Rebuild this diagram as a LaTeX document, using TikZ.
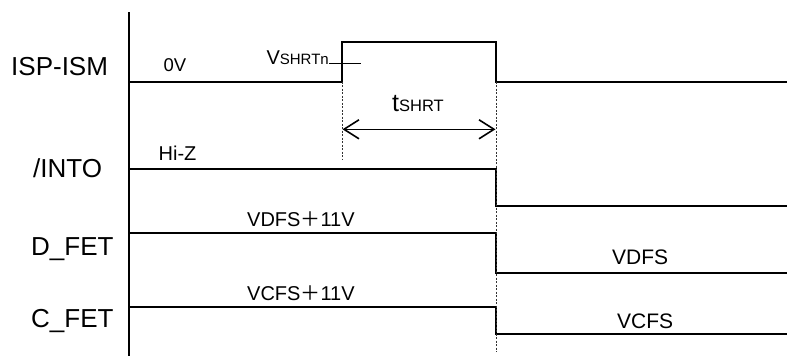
\documentclass[tikz,border=0pt]{standalone}
\usepackage{fontspec}
\setmainfont{Liberation Sans}
\newfontfamily\cjk{Noto Sans CJK SC}
\usetikzlibrary{arrows.meta}
\newcommand{\fs}[1]{\fontsize{#1}{#1}\selectfont}
\begin{document}
\begin{tikzpicture}[x=1pt,y=-1pt,
  sig/.style={line width=1.8pt,line join=miter},
  guide/.style={line width=0.6pt,dash pattern=on 2pt off 1.5pt,black!80},
  sname/.style={inner sep=0pt,anchor=base west,font=\fs{26}},
  lvl/.style={inner sep=0pt,anchor=base west,font=\fs{20}},
  span/.style={line width=1.6pt,{Straight Barb[length=15pt,width=19pt,line width=1.6pt]}-{Straight Barb[length=15pt,width=19pt,line width=1.6pt]}}]
\useasboundingbox (0,0) rectangle (787,356);
% axis
\coordinate (axtop) at (129,12);
\coordinate (axbot) at (129,356);
\draw[line width=1.8pt] (axtop) -- (axbot);
% signal names
\node[sname] (nisp) at (11,75.5) {ISP-ISM};
\node[sname] (nint) at (33,177.7) {/INTO};
\node[sname] (ndf) at (31,255) {D\_FET};
\node[sname] (ncf) at (31,327.5) {C\_FET};
% ISP-ISM waveform
\coordinate (i0) at (129,81.7);
\coordinate (i1) at (342,81.7);
\coordinate (i2) at (342,41.7);
\coordinate (i3) at (496,41.7);
\coordinate (i4) at (496,81.7);
\coordinate (i5) at (787,81.7);
\draw[sig] (i0) -- (i1) -- (i2) -- (i3) -- (i4) -- (i5);
% /INTO
\coordinate (n0) at (129,169);
\coordinate (n1) at (496,169);
\coordinate (n2) at (496,206);
\coordinate (n3) at (787,206);
\draw[sig] (n0) -- (n1) -- (n2) -- (n3);
% D_FET
\coordinate (d0) at (129,233);
\coordinate (d1) at (496,233);
\coordinate (d2) at (496,273);
\coordinate (d3) at (787,273);
\draw[sig] (d0) -- (d1) -- (d2) -- (d3);
% C_FET
\coordinate (c0) at (129,307);
\coordinate (c1) at (496,307);
\coordinate (c2) at (496,334);
\coordinate (c3) at (787,334);
\draw[sig] (c0) -- (c1) -- (c2) -- (c3);
% guides
\coordinate (g1) at (342,160);
\coordinate (g2) at (496,352);
\draw[guide] (i1) -- (g1);
\draw[guide] (i4) -- (g2);
% span arrow
\coordinate (a1) at (342.5,129.3);
\coordinate (a2) at (495.5,129.3);
\draw[span] (a1) -- (a2);
\node[inner sep=0pt,anchor=base west] (tl) at (392,111.7) {\fs{25}t\fs{16.5}SHRT};
% level labels
\node[inner sep=0pt,anchor=base west] (v0) at (163.5,71.7) {\fs{18.5}0V};
\node[inner sep=0pt,anchor=base east] (vs) at (329,64) {\fs{20}V\fs{15}SHRTn};
\coordinate (tk1) at (329,63.3);
\coordinate (tk2) at (361,63.3);
\draw[line width=0.8pt] (tk1) -- (tk2);
\node[lvl] (hz) at (158.5,160.5) {Hi-Z};
\node[lvl] (vdh) at (247,226) {VDFS{\cjk ＋}11V};
\node[lvl] (vch) at (247,300) {VCFS{\cjk ＋}11V};
\node[inner sep=0pt,anchor=base west,font=\fs{21}] (vdl) at (612,264.5) {VDFS};
\node[inner sep=0pt,anchor=base west,font=\fs{21}] (vcl) at (617,328) {VCFS};
\end{tikzpicture}
\end{document}
